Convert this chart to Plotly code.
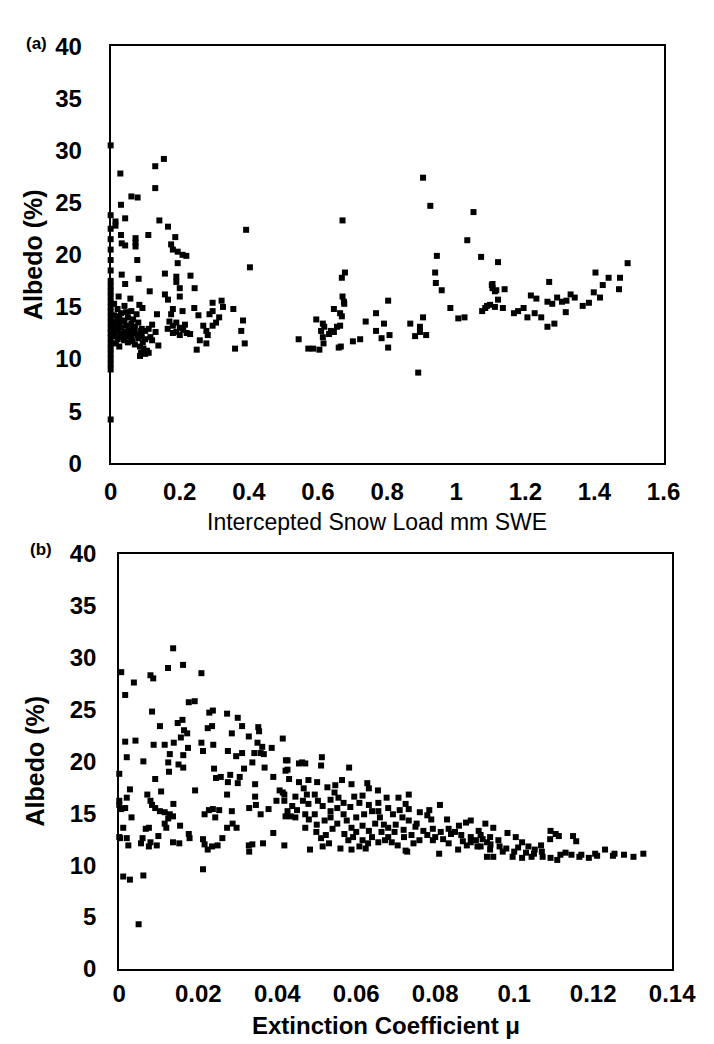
import plotly.graph_objects as go

# ---------------- Panel (a): Intercepted snow load vs albedo ----------------
a_load = [
    0, 0, 0, 0, 0, 0, 0, 0, 0, 0, 0, 0, 0, 0, 0, 0, 0, 0, 0, 0, 0, 0, 0, 0, 0, 0,
    0.154, 0.129, 0.028, 0.129, 0.06, 0.078, 0.03, 0.042, 0.014, 0.014, 0.141, 0.166, 0.392,
    0.03, 0.109, 0.187, 0.072, 0.072, 0.072, 0.032, 0.042, 0.175, 0.18, 0.194, 0.208, 0.219,
    0.077, 0.194, 0.403, 0.032, 0.042, 0.081, 0.157, 0.19, 0.19, 0.2, 0.231, 0.243, 0.113,
    0.157, 0.166, 0.2, 0.023, 0.057, 0.083, 0.092, 0.134, 0.18, 0.208, 0.175, 0.242, 0.254,
    0.295, 0.321, 0.325, 0.295, 0.286, 0.355, 0.383, 0.314, 0.305, 0.295, 0.268, 0.277,
    0.281, 0.258, 0.277, 0.378, 0.388, 0.36, 0.249, 0.12, 0.138, 0.097, 0.088, 0.544,
    0.17, 0.18, 0.19, 0.2, 0.21, 0.22, 0.23, 0.19, 0.2, 0.215, 0.18, 0.165,
    0.01, 0.02, 0.03, 0.04, 0.05, 0.06, 0.07, 0.08, 0.09, 0.1, 0.11,
    0.01, 0.02, 0.03, 0.04, 0.05, 0.06, 0.07, 0.08, 0.09, 0.1, 0.115,
    0.01, 0.02, 0.03, 0.04, 0.05, 0.06, 0.07, 0.085, 0.095, 0.105,
    0.015, 0.025, 0.035, 0.045, 0.055, 0.065, 0.075, 0.02, 0.04, 0.01, 0.12, 0.13,
    0.005, 0.008, 0.012, 0.018, 0.025, 0.028, 0.035, 0.038, 0.048, 0.052, 0.058,
    0.063, 0.068, 0.078, 0.088, 0.093, 0.045, 0.025, 0.06, 0.1, 0.11, 0.085,
    0.904, 0.925, 1.05, 1.032, 1.072, 0.944, 0.939, 0.941, 0.958, 0.983, 1.006, 1.024,
    1.103, 1.105, 1.089, 1.075, 0.671, 0.678, 0.669, 0.671, 0.675, 0.676, 0.646, 0.664,
    0.669, 0.595, 0.614, 0.618, 0.609, 0.637, 0.655, 0.664, 0.614, 0.632, 0.646,
    0.572, 0.586, 0.604, 0.616, 0.66, 0.666, 0.701, 0.722, 0.738, 0.768, 0.803, 0.791,
    0.768, 0.784, 0.807, 0.803, 0.867, 0.904, 0.895, 0.895, 0.881, 0.913, 0.89,
    1.121, 1.105, 1.116, 1.112, 1.14, 1.121, 1.098, 1.112, 1.135, 1.084, 1.167, 1.179,
    1.195, 1.216, 1.232, 1.206, 1.227, 1.246, 1.269, 1.264, 1.278, 1.292, 1.306, 1.319,
    1.331, 1.343, 1.317, 1.264, 1.284, 1.366, 1.384, 1.398, 1.416, 1.403, 1.424, 1.441,
    1.474, 1.471, 1.496,
]
a_albedo = [
    30.5, 23.8, 22.5, 21.5, 20.5, 19.5, 18.5, 17.5, 17, 16.5, 16, 15.5, 15, 14.5, 14, 13.5,
    13, 12.5, 12, 11.5, 11, 10.5, 10, 9.5, 9, 4.2,
    29.2, 28.5, 27.8, 26.4, 25.6, 25.5, 24.8, 23.5, 23.2, 22.8, 23.3, 22.7, 22.4,
    21.9, 21.9, 21.7, 21.6, 21.2, 20.8, 21.1, 20.9, 21.0, 20.5, 20.3, 20.0, 19.9,
    19.5, 19.2, 18.8, 18.1, 17.2, 17.7, 18.2, 17.9, 17.4, 16.8, 18.0, 16.8, 16.5,
    16.2, 15.7, 16.0, 16.0, 15.8, 15.2, 14.9, 14.3, 14.8, 14.6, 14.3, 14.9, 14.2,
    15.4, 15.6, 15.0, 14.6, 14.3, 14.8, 13.7, 14.0, 13.5, 13.2, 13.2, 12.7,
    12.3, 11.8, 11.5, 12.7, 11.5, 11.0, 10.9, 11.8, 11.3, 10.7, 10.6, 11.9,
    13.6, 13.2, 13.5, 13.0, 12.8, 12.5, 12.4, 12.6, 12.3, 13.3, 12.5, 12.9,
    14.2, 13.8, 14.4, 13.6, 14.0, 13.4, 13.1, 13.5, 12.9, 12.7, 12.9,
    13.2, 12.8, 13.0, 12.6, 12.4, 12.2, 12.5, 12.0, 12.2, 11.9, 12.1,
    12.2, 11.9, 12.1, 11.8, 11.6, 11.9, 11.4, 11.2, 11.0, 10.8,
    11.5, 11.2, 12.4, 13.2, 12.9, 13.8, 14.3, 14.8, 15.1, 15.3, 13.3, 12.6,
    12.8, 13.6, 12.4, 13.1, 13.4, 12.3, 13.7, 11.9, 12.2, 13.1, 12.6,
    11.7, 12.9, 12.3, 12.7, 11.6, 14.5, 14.1, 14.6, 10.5, 10.6, 10.3,
    27.4, 24.7, 24.1, 21.4, 19.8, 19.9, 18.3, 17.3, 16.6, 14.9, 13.9, 14.0,
    17.1, 16.8, 15.1, 14.6, 23.3, 18.3, 17.8, 16.0, 15.5, 15.3, 14.8, 14.4,
    14.1, 13.8, 13.4, 13.1, 12.7, 12.7, 13.1, 13.2, 12.1, 12.4, 12.6,
    11.0, 11.0, 10.9, 11.5, 11.1, 11.2, 11.7, 11.9, 13.6, 14.4, 15.6, 13.4,
    12.7, 12.0, 12.3, 11.1, 13.4, 14.0, 13.1, 12.6, 12.2, 12.3, 8.7,
    19.3, 17.2, 16.6, 16.5, 16.7, 15.7, 15.2, 15.0, 14.9, 14.9, 14.4, 14.6,
    14.9, 16.1, 15.8, 14.0, 14.4, 14.0, 17.4, 15.5, 15.3, 15.9, 15.5, 15.6,
    16.2, 15.9, 14.5, 13.1, 13.4, 15.1, 15.4, 16.4, 15.9, 18.3, 17.1, 17.8,
    17.8, 16.7, 19.2,
]

# ---------------- Panel (b): Extinction coefficient vs albedo ----------------
b_mu = [
    0.01364, 0.01615, 0.01235, 0.0208, 0.0005, 0.0079, 0.0086, 0.0037, 0.0015, 0.0176,
    0.0191, 0.0083, 0.0237, 0.0228, 0.0273, 0.03, 0.0103, 0.016, 0.0148, 0.0164,
    0.0172, 0.0156, 0.0224, 0.0235, 0.0285, 0.0311, 0.0352, 0.0354, 0.0328, 0.0414,
    0.0015, 0.0041, 0.0087, 0.0115, 0.0138, 0.0174, 0.0208, 0.0212, 0.0238, 0.0275,
    0.0296, 0.0311, 0.035, 0.0362, 0.0358, 0.0366, 0.0386, 0.0342, 0.0337, 0.0316,
    0.0368, 0.0422, 0.0455, 0.0421, 0.0019, 0.0061, 0.0128, 0.0162, 0.0124, 0.015,
    0.0162, 0.0126, 0.0, 0.0091, 0.024, 0.0245, 0.0257, 0.0281, 0.0275, 0.0305,
    0.03, 0.0344, 0.039, 0.0027, 0.0106, 0.0192, 0.0273, 0.0344, 0.0406, 0.0414,
    0.0418, 0.0, 0.0, 0.0015, 0.0005, 0.0019, 0.0071, 0.0079, 0.0083, 0.0091,
    0.0103, 0.0115, 0.0128, 0.0136, 0.0124, 0.0115, 0.0119, 0.0137, 0.0031, 0.0154,
    0.0216, 0.0227, 0.0237, 0.0243, 0.0253, 0.0285, 0.0273, 0.0287, 0.0297, 0.0329,
    0.0346, 0.0358, 0.0378, 0.0398, 0.0418, 0.0426, 0.0421, 0.0434, 0.0446, 0.001,
    0.0, 0.0002, 0.0019, 0.0023, 0.0059, 0.0055, 0.0067, 0.0075, 0.0079, 0.0075,
    0.0095, 0.0099, 0.0136, 0.0152, 0.0176, 0.0178, 0.0212, 0.0216, 0.0224, 0.0235,
    0.0249, 0.0261, 0.0328, 0.0329, 0.0337, 0.0364, 0.039, 0.0418, 0.0212, 0.001,
    0.0027, 0.0061, 0.0049,
    0.0426, 0.0463, 0.0471, 0.0513, 0.0511, 0.0426, 0.0582, 0.043, 0.0455, 0.0479,
    0.0501, 0.0527, 0.0547, 0.0564, 0.0588, 0.0628, 0.0632, 0.0655, 0.0446, 0.0467,
    0.0475, 0.0495, 0.0438, 0.0479, 0.0503, 0.0515, 0.0535, 0.0555, 0.0568, 0.0552,
    0.0535, 0.0568, 0.0616, 0.0608, 0.0632, 0.0656, 0.0677, 0.0681, 0.0656, 0.0707,
    0.0733, 0.0733, 0.0761, 0.0812, 0.0471, 0.0495, 0.0471, 0.0499, 0.0523, 0.0511,
    0.0531, 0.0515, 0.0483, 0.0535, 0.0552, 0.0576, 0.0588, 0.06, 0.0616, 0.0632,
    0.0648, 0.0664, 0.0681, 0.056, 0.0588, 0.0608, 0.0624, 0.0656, 0.0673, 0.0705,
    0.0729, 0.0745, 0.0592, 0.0616, 0.064, 0.0681, 0.0697, 0.0721, 0.0693, 0.0717,
    0.0733, 0.0753, 0.077, 0.0794, 0.0814, 0.0834, 0.085, 0.0866, 0.089, 0.0915,
    0.0939, 0.079, 0.083, 0.0878, 0.089, 0.0927, 0.0794, 0.0834, 0.0858, 0.089,
    0.0907, 0.0931, 0.081, 0.0725,
    0.045, 0.048, 0.05, 0.052, 0.054, 0.057, 0.058, 0.06, 0.062, 0.063,
    0.064, 0.066, 0.067, 0.069, 0.07, 0.071, 0.072, 0.074, 0.075, 0.076,
    0.078, 0.078, 0.08, 0.082, 0.084, 0.086, 0.087, 0.088, 0.091, 0.092,
    0.094, 0.096, 0.098, 0.1, 0.101, 0.103, 0.105, 0.107, 0.113, 0.117,
    0.121, 0.125, 0.0465, 0.0585, 0.0545, 0.0595, 0.0725, 0.0785,
    0.0947, 0.0903, 0.0931, 0.0915, 0.0939, 0.0963, 0.0947, 0.0983, 0.1004, 0.102,
    0.1036, 0.1052, 0.1068, 0.0971, 0.0996, 0.102, 0.1044, 0.1072, 0.1092, 0.1109,
    0.1117, 0.1092, 0.1105, 0.1091, 0.1113, 0.1149, 0.1157, 0.1145, 0.1165, 0.1189,
    0.1205, 0.123, 0.1254, 0.1278, 0.1302, 0.1327,
]
b_albedo = [
    30.9, 29.3, 29.0, 28.5, 28.6, 28.3, 28.0, 27.6, 26.4, 25.7,
    25.8, 24.8, 24.9, 24.7, 24.6, 24.2, 23.4, 24.0, 23.7, 23.0,
    22.7, 22.3, 23.2, 23.4, 22.7, 23.4, 23.3, 22.9, 22.4, 22.2,
    21.9, 22.0, 21.6, 21.6, 21.8, 21.3, 21.8, 21.0, 21.6, 21.0,
    20.5, 20.8, 21.8, 21.4, 20.8, 20.7, 21.3, 20.8, 19.9, 19.3,
    19.4, 20.1, 19.8, 19.1, 20.4, 20.0, 20.7, 20.6, 19.9, 19.7,
    19.4, 19.0, 18.8, 18.3, 19.3, 18.4, 18.5, 18.7, 18.0, 18.5,
    17.9, 17.8, 18.5, 17.3, 17.1, 17.2, 16.8, 16.6, 17.2, 17.0,
    16.8, 16.2, 15.8, 15.5, 15.4, 16.5, 16.8, 16.2, 15.8, 15.5,
    15.2, 15.1, 14.9, 14.7, 14.5, 14.0, 13.6, 15.9, 14.6, 13.8,
    14.9, 15.3, 15.4, 14.6, 15.3, 15.2, 13.6, 14.0, 13.6, 15.5,
    15.8, 14.9, 15.4, 16.2, 16.2, 15.2, 14.7, 14.7, 14.6, 13.6,
    12.7, 12.6, 12.6, 11.9, 12.6, 12.1, 13.5, 13.6, 12.2, 11.8,
    11.9, 12.8, 12.2, 12.1, 13.0, 12.6, 12.5, 12.0, 11.5, 11.8,
    11.9, 12.6, 11.9, 11.3, 12.0, 12.1, 13.1, 11.9, 9.6, 8.9,
    8.6, 9.0, 4.3,
    20.1, 19.9, 19.8, 20.4, 19.6, 19.2, 19.4, 18.3, 18.0, 18.2,
    18.0, 17.5, 17.7, 18.2, 17.8, 17.9, 17.4, 17.2, 16.6, 17.4,
    16.8, 16.8, 15.7, 15.9, 16.2, 15.7, 16.3, 16.5, 16.0, 15.5,
    15.2, 14.9, 16.7, 16.0, 15.8, 16.0, 16.5, 15.5, 15.2, 16.5,
    16.8, 15.4, 15.1, 15.8, 14.9, 14.9, 13.6, 13.2, 12.9, 12.6,
    12.1, 11.8, 11.5, 14.6, 14.0, 14.3, 13.6, 13.2, 13.8, 13.3,
    14.0, 13.2, 13.6, 11.6, 11.5, 11.8, 11.6, 12.2, 12.4, 11.9,
    11.3, 12.1, 12.7, 12.4, 12.7, 12.7, 13.2, 12.7, 14.9, 14.6,
    14.3, 14.0, 13.3, 13.5, 13.2, 13.5, 13.2, 12.9, 12.7, 12.9,
    12.7, 14.4, 14.4, 14.1, 14.3, 14.0, 12.4, 12.1, 11.5, 12.2,
    11.8, 10.8, 11.1, 11.4,
    15.3, 14.4, 13.9, 14.3, 13.5, 13.0, 12.4, 14.6, 14.9, 12.1,
    15.2, 14.6, 13.9, 12.2, 13.9, 15.3, 13.4, 12.9, 13.7, 12.4,
    14.8, 12.9, 12.7, 12.5, 13.0, 13.8, 12.3, 11.9, 13.3, 12.5,
    12.0, 12.4, 11.6, 11.3, 11.7, 11.2, 11.1, 11.3, 11.2, 11.0,
    10.9, 10.9, 16.2, 15.6, 17.0, 16.6, 15.9, 15.3,
    13.6, 12.4, 12.2, 11.8, 11.5, 11.8, 10.8, 13.1, 12.7, 12.2,
    11.8, 11.5, 11.9, 11.3, 10.8, 10.7, 10.8, 10.8, 10.7, 10.5,
    11.0, 13.3, 13.0, 12.5, 12.8, 12.8, 12.3, 11.0, 10.8, 10.7,
    11.1, 11.5, 11.1, 11.0, 10.8, 11.1,
]

# ---------------- Tick labels ----------------
albedo_ticks = [0, 5, 10, 15, 20, 25, 30, 35, 40]
albedo_labels = ["0", "5", "10", "15", "20", "25", "30", "35", "40"]
load_ticks = [0, 0.2, 0.4, 0.6, 0.8, 1.0, 1.2, 1.4, 1.6]
load_labels = ["0", "0.2", "0.4", "0.6", "0.8", "1", "1.2", "1.4", "1.6"]
mu_ticks = [0, 0.02, 0.04, 0.06, 0.08, 0.1, 0.12, 0.14]
mu_labels = ["0", "0.02", "0.04", "0.06", "0.08", "0.1", "0.12", "0.14"]

W, H = 714, 1044
FONT = "Liberation Sans, Arial, sans-serif"


def bold(labels):
    return ["<b>%s</b>" % s for s in labels]


fig = go.Figure()
marker = dict(symbol="square", size=6, color="black", line=dict(width=0))
fig.add_trace(go.Scatter(x=a_load, y=a_albedo, mode="markers", marker=marker,
                         xaxis="x", yaxis="y", cliponaxis=False, showlegend=False))
fig.add_trace(go.Scatter(x=b_mu, y=b_albedo, mode="markers", marker=marker,
                         xaxis="x2", yaxis="y2", cliponaxis=False, showlegend=False))

tickfont = dict(family=FONT, size=24, color="black")
axis_common = dict(showline=True, mirror=True, linecolor="black", linewidth=2,
                   showgrid=False, zeroline=False, ticks="", ticklen=0,
                   tickfont=tickfont, tickmode="array")

fig.update_layout(
    width=W, height=H,
    margin=dict(l=0, r=0, t=0, b=0),
    paper_bgcolor="white", plot_bgcolor="white",
    xaxis=dict(domain=[100 / W, 678 / W], range=[0, 1.6], anchor="y",
               tickvals=load_ticks, ticktext=bold(load_labels),
               ticklabelstandoff=6, **axis_common),
    yaxis=dict(domain=[1 - 453 / H, 1 - 25 / H], range=[0, 40], anchor="x",
               tickvals=albedo_ticks, ticktext=bold(albedo_labels),
               ticklabelstandoff=22, **axis_common),
    xaxis2=dict(domain=[109 / W, 687 / W], range=[0, 0.14], anchor="y2",
                tickvals=mu_ticks, ticktext=bold(mu_labels),
                ticklabelstandoff=2, **axis_common),
    yaxis2=dict(domain=[1 - 972 / H, 1 - 546 / H], range=[0, 40], anchor="x2",
                tickvals=albedo_ticks, ticktext=bold(albedo_labels),
                ticklabelstandoff=16, **axis_common),
    annotations=[
        dict(text="<b>(a)</b>", x=22 / W, y=1 - 22 / H, xref="paper", yref="paper",
             xanchor="center", yanchor="middle", showarrow=False,
             font=dict(family=FONT, size=17, color="black")),
        dict(text="<b>(b)</b>", x=27 / W, y=1 - 542 / H, xref="paper", yref="paper",
             xanchor="center", yanchor="middle", showarrow=False,
             font=dict(family=FONT, size=17, color="black")),
        dict(text="<b>Albedo (%)</b>", x=19 / W, y=1 - 239 / H, xref="paper", yref="paper",
             xanchor="center", yanchor="middle", textangle=-90, showarrow=False,
             font=dict(family=FONT, size=25, color="black")),
        dict(text="<b>Albedo (%)</b>", x=21 / W, y=1 - 759 / H, xref="paper", yref="paper",
             xanchor="center", yanchor="middle", textangle=-90, showarrow=False,
             font=dict(family=FONT, size=25, color="black")),
        dict(text="Intercepted Snow Load mm SWE", x=378 / W, y=1 - 513 / H,
             xref="paper", yref="paper", xanchor="center", yanchor="middle",
             showarrow=False, font=dict(family=FONT, size=23, color="black")),
        dict(text="<b>Extinction Coefficient μ</b>", x=388 / W, y=1 - 1030 / H,
             xref="paper", yref="paper", xanchor="center", yanchor="middle",
             showarrow=False, font=dict(family=FONT, size=24, color="black")),
    ],
)

fig.write_html("out.html")
